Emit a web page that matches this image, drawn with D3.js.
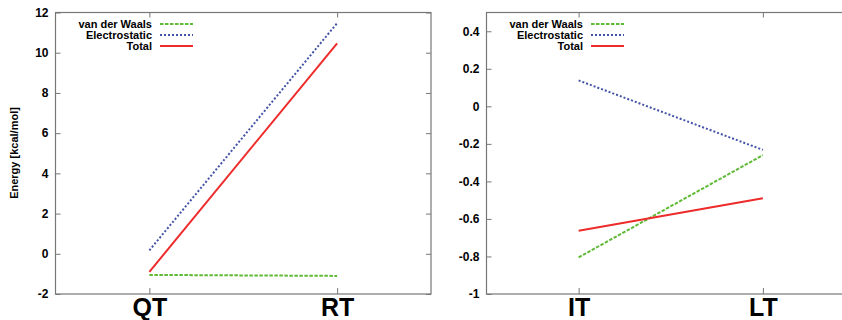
<!DOCTYPE html>
<html>
<head>
<meta charset="utf-8">
<script src="https://cdn.jsdelivr.net/npm/d3@7"></script>
<style>
  body { margin: 0; background: #fff; }
  svg text { font-family: "Liberation Sans", Arial, Helvetica, sans-serif; font-weight: bold; fill: #000; }
  .axis path, .axis line { stroke: #777; }
</style>
</head>
<body>
<svg id="chart" width="842" height="320"></svg>
<script>
// series names, colours and dash styles
const seriesNames = ["van der Waals", "Electrostatic", "Total"];
const seriesColors = ["#5fba35", "#4353a6", "#ee2b2b"];
const seriesDash = ["3.5,1.5", "2,2", null];

// left panel
const leftCats = ["QT", "RT"];
const leftVdw = [-1.05, -1.1];
const leftElec = [0.17, 11.47];
const leftTotal = [-0.9, 10.47];
const leftTicks = [-2, 0, 2, 4, 6, 8, 10, 12];

// right panel
const rightCats = ["IT", "LT"];
const rightVdw = [-0.805, -0.26];
const rightElec = [0.138, -0.232];
const rightTotal = [-0.663, -0.49];
const rightTicks = [-1, -0.8, -0.6, -0.4, -0.2, 0, 0.2, 0.4];

const svg = d3.select('#chart');

function drawPanel(cfg) {
    const g = svg.append('g');
    const x = d3.scalePoint().domain(cfg.cats).range([cfg.left, cfg.right]).padding(0.5);
    const y = d3.scaleLinear().domain(cfg.yDomain).range([294, 12.5]);

    // frame
    g.append('rect')
        .attr('x', cfg.left).attr('y', 12.5)
        .attr('width', cfg.right - cfg.left).attr('height', 294 - 12.5)
        .attr('fill', 'none').attr('stroke', '#777').attr('stroke-width', 1.2);

    // y axis, ticks inside
    const yAxis = g.append('g')
        .attr('class', 'axis')
        .attr('transform', `translate(${cfg.left},0)`)
        .call(d3.axisLeft(y).tickValues(cfg.ticks).tickSize(-5).tickPadding(7)
            .tickFormat(d => String(+d.toFixed(1))));
    yAxis.select('.domain').remove();
    yAxis.selectAll('text').style('font-size', '12px');

    // mirror ticks on right border
    g.append('g')
        .attr('class', 'axis')
        .attr('transform', `translate(${cfg.right},0)`)
        .call(d3.axisRight(y).tickValues(cfg.ticks).tickSize(-5).tickFormat(''))
        .select('.domain').remove();

    // x axis bottom
    const xAxis = g.append('g')
        .attr('class', 'axis')
        .attr('transform', 'translate(0,294)')
        .call(d3.axisBottom(x).tickSize(-6));
    xAxis.select('.domain').remove();
    xAxis.selectAll('text').style('font-size', '25px').attr('y', 22).attr('dy', 0);

    // x axis top mirror
    g.append('g')
        .attr('class', 'axis')
        .attr('transform', 'translate(0,12.5)')
        .call(d3.axisTop(x).tickSize(-5).tickFormat(''))
        .select('.domain').remove();

    const line = d3.line().x((d, i) => x(cfg.cats[i])).y(d => y(d));
    const data = [cfg.vdw, cfg.elec, cfg.total];
    data.forEach((vals, k) => {
        g.append('path')
            .datum(vals)
            .attr('d', line)
            .attr('fill', 'none')
            .attr('stroke', seriesColors[k])
            .attr('stroke-width', 2)
            .attr('stroke-dasharray', seriesDash[k]);
    });

    // legend
    const leg = g.append('g').attr('transform', `translate(${cfg.legendX},24)`);
    seriesNames.forEach((name, k) => {
        const row = leg.append('g').attr('transform', `translate(0,${k * 11})`);
        row.append('text')
            .attr('x', 0).attr('y', 4)
            .attr('text-anchor', 'end')
            .style('font-size', '11px')
            .text(name);
        row.append('line')
            .attr('x1', 8).attr('x2', 41)
            .attr('y1', 0).attr('y2', 0)
            .attr('stroke', seriesColors[k])
            .attr('stroke-width', 2)
            .attr('stroke-dasharray', seriesDash[k]);
    });
}

drawPanel({ cats: leftCats, vdw: leftVdw, elec: leftElec, total: leftTotal,
    ticks: leftTicks, yDomain: [-2, 12], left: 55.5, right: 431, legendX: 152 });
drawPanel({ cats: rightCats, vdw: rightVdw, elec: rightElec, total: rightTotal,
    ticks: rightTicks, yDomain: [-1, 0.5], left: 486.5, right: 855, legendX: 583 });

// y axis title
svg.append('text')
    .attr('transform', 'translate(18,153) rotate(-90)')
    .attr('text-anchor', 'middle')
    .style('font-size', '11px')
    .text('Energy [kcal/mol]');
</script>
</body>
</html>
